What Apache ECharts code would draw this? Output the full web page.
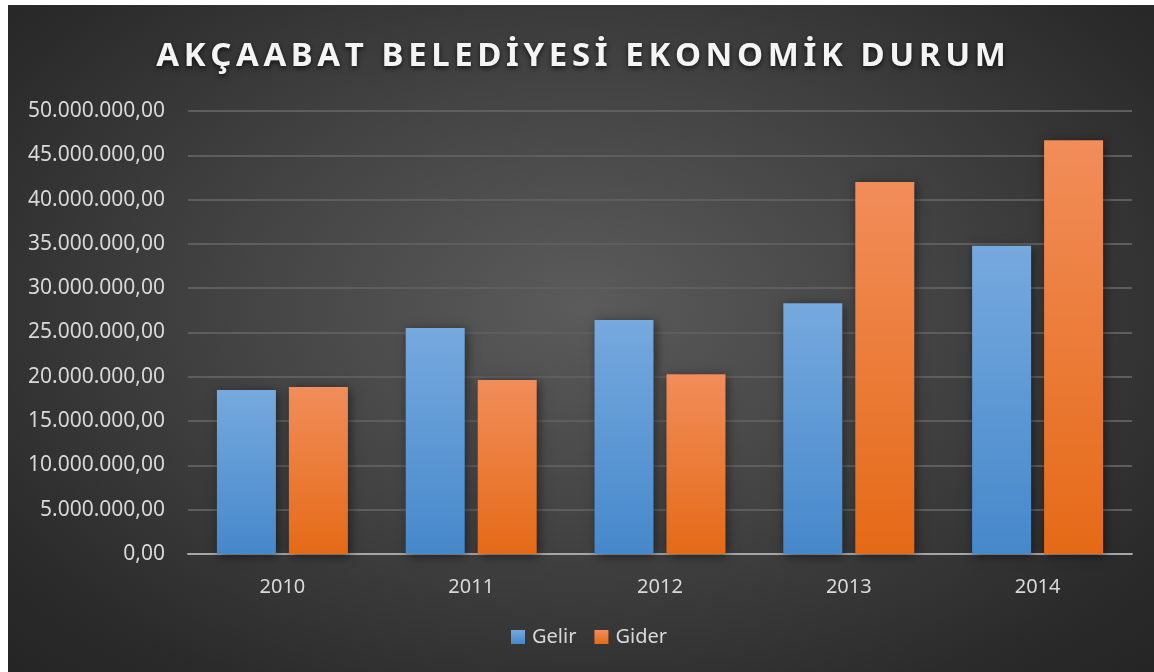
<!DOCTYPE html>
<html>
<head>
<meta charset="utf-8">
<script src="https://cdn.jsdelivr.net/npm/echarts@6/dist/echarts.min.js"></script>
<style>
  html, body { margin: 0; padding: 0; background: #fff; }
  #chart {
    position: absolute; left: 8px; top: 5px; width: 1146px; height: 667px;
    background: radial-gradient(ellipse at 50% 45%, #5b5b5b 0%, #454545 40%, #2a2a2a 85%, #252525 100%);
  }
</style>
</head>
<body>
<div id="chart"></div>
<script>
var titleText = 'AKÇAABAT BELEDİYESİ EKONOMİK DURUM'
var years = ['2010', '2011', '2012', '2013', '2014']
var gelir = [18500000, 25500000, 26400000, 28300000, 34800000]
var gider = [18850000, 19650000, 20300000, 42000000, 46700000]
var yTicks = { min: 0, max: 50000000, interval: 5000000 }

// 50.000.000,00 gibi yaz
function trFormat(v) {
  var s = Math.round(v).toString()
  var out = ''
  while (s.length > 3) {
    out = '.' + s.slice(-3) + out
    s = s.slice(0, -3)
  }
  return s + out + ',00'
}

// harf aralığı için her harfi ayrı rich parçası yap
function spaced(str) {
  return str.split('').map(function(ch) { return '{c|' + ch + '}' }).join('')
}

function grad(top, bottom) {
  return new echarts.graphic.LinearGradient(0, 0, 0, 1, [
    { offset: 0, color: top },
    { offset: 1, color: bottom }
  ])
}

var chart = echarts.init(document.getElementById('chart'), null, { renderer: 'canvas' })
var fontFam = '"Noto Sans", "Open Sans", sans-serif'

chart.setOption({
  backgroundColor: 'transparent',
  animation: false,
  title: {
    text: spaced(titleText),
    left: 'center',
    top: 30,
    textStyle: {
      rich: {
        c: {
          color: '#f4f4f4',
          fontSize: 33,
          fontWeight: 'bold',
          fontFamily: fontFam,
          padding: [0, 2.3],
          textShadowColor: 'rgba(0,0,0,0.7)',
          textShadowBlur: 5,
          textShadowOffsetY: 2
        }
      }
    }
  },
  legend: {
    bottom: 20,
    left: 498,
    itemWidth: 14,
    itemHeight: 14,
    itemGap: 18,
    icon: 'rect',
    textStyle: { color: '#d9d9d9', fontSize: 20, fontFamily: fontFam, padding: [0, 0, 0, 2] },
    data: ['Gelir', 'Gider']
  },
  grid: { left: 180, right: 22, top: 106, bottom: 118, containLabel: false },
  xAxis: {
    type: 'category',
    data: years,
    axisTick: { show: false },
    axisLine: { lineStyle: { color: '#a6a6a6', width: 2 } },
    axisLabel: { color: '#d9d9d9', fontSize: 20, fontFamily: fontFam, margin: 23 }
  },
  yAxis: {
    type: 'value',
    min: yTicks.min,
    max: yTicks.max,
    interval: yTicks.interval,
    axisLine: { show: false },
    axisTick: { show: false },
    splitLine: { lineStyle: { color: '#5e5e5e', width: 2 } },
    axisLabel: {
      color: '#d9d9d9', fontSize: 21, fontFamily: fontFam, margin: 23,
      formatter: trFormat
    }
  },
  series: [
    {
      name: 'Gelir',
      type: 'bar',
      data: gelir,
      barWidth: 59,
      barGap: '22%',
      itemStyle: {
        color: grad('#76a9de', '#4688cb'),
        shadowColor: 'rgba(0,0,0,0.5)',
        shadowBlur: 10,
        shadowOffsetX: 2,
        shadowOffsetY: 2
      }
    },
    {
      name: 'Gider',
      type: 'bar',
      data: gider,
      barWidth: 59,
      itemStyle: {
        color: grad('#f18d5a', '#e56a17'),
        shadowColor: 'rgba(0,0,0,0.5)',
        shadowBlur: 10,
        shadowOffsetX: 2,
        shadowOffsetY: 2
      }
    }
  ]
})
</script>
</body>
</html>
